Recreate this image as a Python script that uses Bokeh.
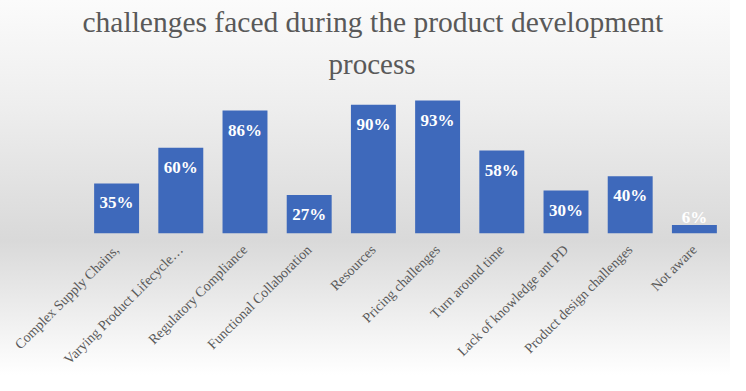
from math import pi
from bokeh.plotting import figure
from bokeh.models import ColumnDataSource, LabelSet, Range1d, Title
from bokeh.embed import file_html
from bokeh.resources import INLINE

categories = ["Complex Supply Chains,", "Varying Product Lifecycle…", "Regulatory Compliance",
              "Functional Collaboration", "Resources", "Pricing challenges", "Turn around time",
              "Lack of knowledge ant PD", "Product design challenges", "Not aware"]
values = [0.35, 0.60, 0.86, 0.27, 0.90, 0.93, 0.58, 0.30, 0.40, 0.06]
value_labels = ["35%", "60%", "86%", "27%", "90%", "93%", "58%", "30%", "40%", "6%"]

label_y = [max(v, 0.25) for v in values]

src = ColumnDataSource(dict(cat=categories, val=values, lab=value_labels, ly=label_y))

p = figure(x_range=categories, width=730, height=375, output_backend="svg",
           toolbar_location=None, tools="", y_range=Range1d(0, 1.0),
           min_border_left=84, min_border_right=4, min_border_top=90, min_border_bottom=137)
p.title = None
p.background_fill_alpha = 0
p.border_fill_alpha = 0
p.outline_line_color = None
p.styles = {"background": "linear-gradient(to bottom, #fbfbfb 0%, #eeeeee 28%, #d9d9d9 64%, #ffffff 100%)"}

p.add_layout(Title(text="process", text_font="Liberation Serif", text_font_size="29px",
                   text_font_style="normal", text_color="#595959", align="left",
                   offset=244, standoff=22), "above")
p.add_layout(Title(text="challenges  faced during the product development", text_font="Liberation Serif",
                   text_font_size="29.5px", text_font_style="normal", text_color="#595959",
                   align="left", offset=-2, standoff=-6), "above")

p.vbar(x="cat", top="val", width=0.7, source=src, fill_color="#3e69bb", line_color=None)

labels = LabelSet(x="cat", y="ly", text="lab", source=src, text_align="center",
                  text_baseline="top", y_offset=-10, text_color="white",
                  text_font="Liberation Serif", text_font_style="bold", text_font_size="17px")
p.add_layout(labels)

p.yaxis.visible = False
p.xaxis.axis_line_color = None
p.xaxis.major_tick_line_color = None
p.xaxis.minor_tick_line_color = None
p.xaxis.major_label_orientation = pi / 4
p.xaxis.major_label_text_font = "Liberation Serif"
p.xaxis.major_label_text_font_size = "14px"
p.xaxis.major_label_text_color = "#595959"
p.xaxis.major_label_standoff = 8
p.xgrid.grid_line_color = None
p.ygrid.grid_line_color = None

open("out.html", "w").write(file_html(p, INLINE))
